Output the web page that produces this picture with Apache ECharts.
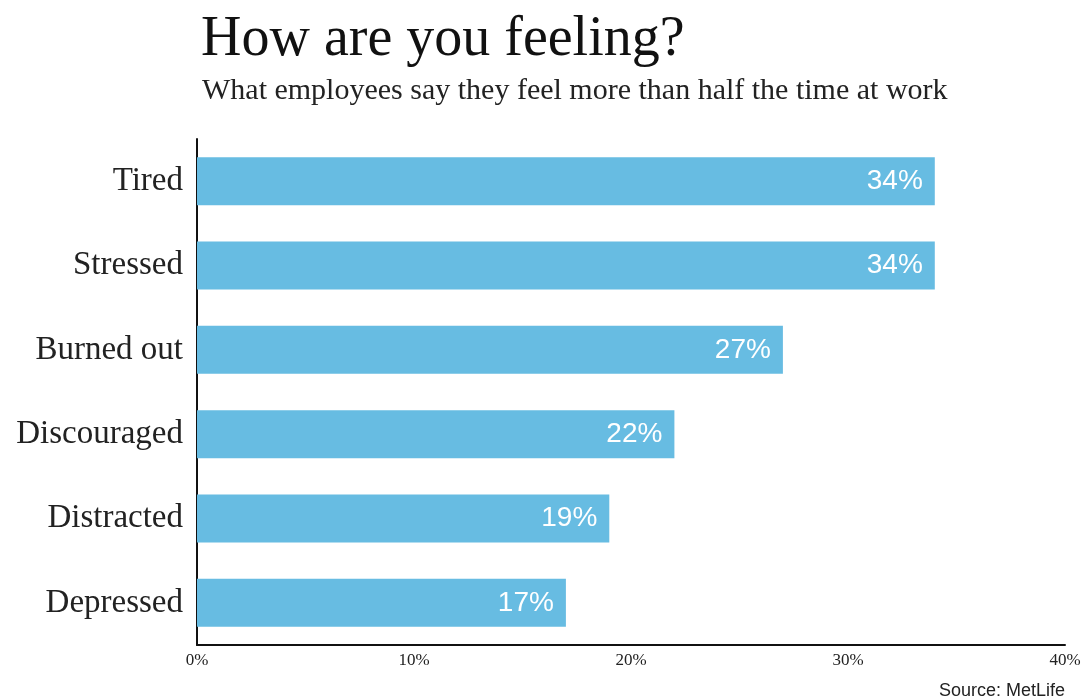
<!DOCTYPE html>
<html><head><meta charset="utf-8">
<script src="https://cdn.jsdelivr.net/npm/echarts@6/dist/echarts.min.js"></script>
<style>html,body{margin:0;padding:0;background:#fff}#c{width:1090px;height:698px}</style>
</head><body><div id="c"></div>
<script>
const categories = ["Tired","Stressed","Burned out","Discouraged","Distracted","Depressed"];
const values = [34,34,27,22,19,17];
const tickLabels = ["0%","10%","20%","30%","40%"];
const titleText = "How are you feeling?";
const subtitleText = "What employees say they feel more than half the time at work";
const sourceText = "Source: MetLife";

const chart = echarts.init(document.getElementById('c'));
chart.setOption({
  animation:false,
  backgroundColor:'#fff',
  title:[
    {text:titleText,left:196,top:7,textStyle:{fontFamily:'Liberation Serif',fontSize:56,fontWeight:'normal',color:'#111'}},
    {text:subtitleText,left:197,top:71,textStyle:{fontFamily:'Liberation Serif',fontSize:30,fontWeight:'normal',color:'#222'}},
    {text:sourceText,right:20,top:677,textStyle:{fontFamily:'Liberation Sans',fontSize:18,fontWeight:'normal',color:'#222'}}
  ],
  grid:{left:197,right:25,top:139,bottom:53,containLabel:false},
  xAxis:{type:'value',min:0,max:40,interval:10,
    axisLine:{show:true,lineStyle:{color:'#111',width:2}},
    axisTick:{show:false},splitLine:{show:false},
    axisLabel:{fontFamily:'Liberation Serif',fontSize:17,color:'#222',margin:7,
      formatter:(v)=>tickLabels[v/10]}},
  yAxis:{type:'category',data:categories,inverse:true,
    axisLine:{show:true,lineStyle:{color:'#111',width:2}},
    axisTick:{show:false},
    axisLabel:{fontFamily:'Liberation Serif',fontSize:33,color:'#222',margin:14,padding:[4,0,0,0]}},
  series:[{type:'bar',data:values,barCategoryGap:'43%',
    itemStyle:{color:'#67bce2'},
    label:{show:true,position:'insideRight',distance:12,formatter:'{c}%',
      color:'#fff',fontFamily:'Liberation Sans',fontSize:28}}]
});
</script></body></html>
